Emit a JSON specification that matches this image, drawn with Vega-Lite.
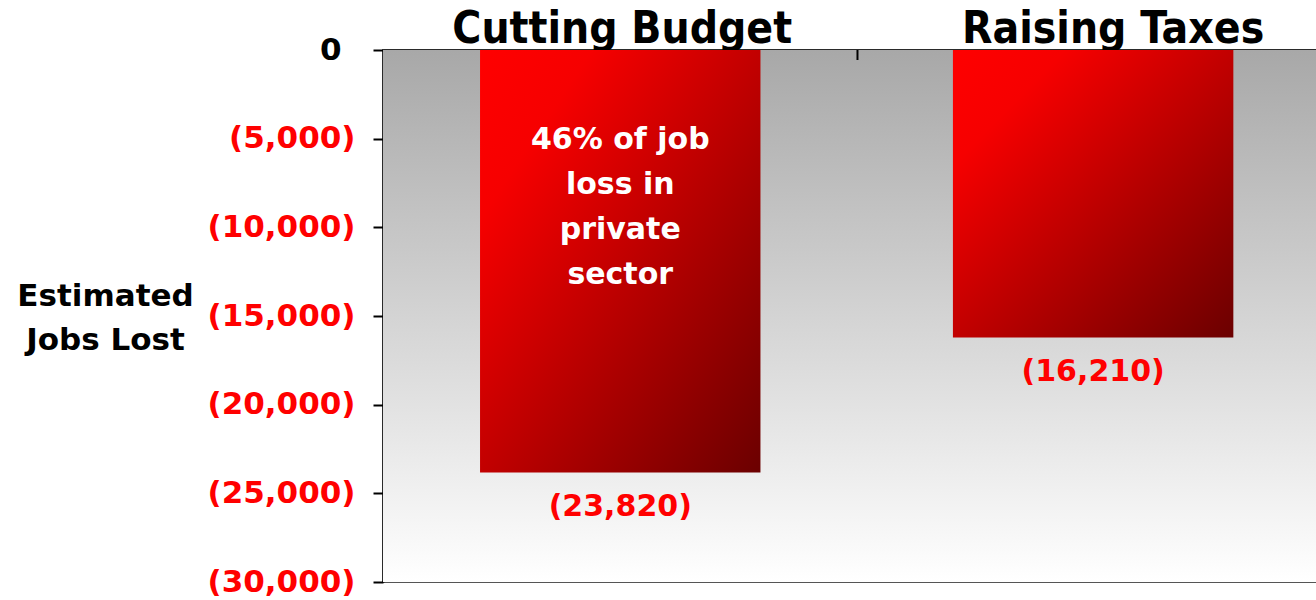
{
  "$schema": "https://vega.github.io/schema/vega-lite/v6.json",
  "width": 933,
  "height": 532,
  "autosize": {"type": "none"},
  "padding": {"left": 383, "top": 50, "right": 0, "bottom": 18},
  "background": "white",
  "config": {"view": {"stroke": "#555555", "strokeWidth": 2}},
  "data": {"values": [
    {"category": "Cutting Budget", "jobs": -23820, "label": "(23,820)"},
    {"category": "Raising Taxes", "jobs": -16210, "label": "(16,210)"}
  ]},
  "resolve": {"axis": {"x": "independent", "y": "independent"}},
  "layer": [
    {
      "data": {"values": [{}]},
      "mark": {"type": "rect", "fill": {"gradient": "linear", "x1": 0, "y1": 0, "x2": 0, "y2": 1, "stops": [{"offset": 0, "color": "#a8a8a8"}, {"offset": 1, "color": "#ffffff"}]}},
      "encoding": {
        "y": {"datum": 0, "type": "quantitative", "axis": null},
        "y2": {"datum": -30000}
      }
    },
    {
      "mark": {"type": "bar", "fill": {"gradient": "linear", "x1": 0, "y1": 0, "x2": 1, "y2": 1, "stops": [{"offset": 0, "color": "#ff0000"}, {"offset": 0.2, "color": "#f60000"}, {"offset": 1, "color": "#6b0000"}]}},
      "encoding": {
        "x": {"field": "category", "type": "nominal", "sort": null,
          "scale": {"paddingInner": 0.407, "paddingOuter": 0.19, "align": 0.54},
          "axis": {"orient": "top", "title": null, "labelFont": "DejaVu Sans Condensed", "labelFontSize": 44, "labelFontWeight": "bold", "labelColor": "black", "labelAngle": 0, "labelLimit": 600,
            "labelOffset": {"condition": {"test": "datum.value === 'Raising Taxes'", "value": 20}, "value": 2},
            "ticks": false, "domainColor": "black", "domainWidth": 2, "labelPadding": 8, "labelBaseline": "alphabetic"}},
        "y": {"field": "jobs", "type": "quantitative",
          "scale": {"domain": [-30000, 0], "nice": false, "zero": true},
          "axis": {
            "title": ["Estimated", "Jobs Lost"], "titleAngle": 0, "titleX": -278, "titleY": 246, "titleAlign": "center", "titleBaseline": "middle",
            "titleFont": "DejaVu Sans", "titleFontSize": 31, "titleFontWeight": "bold", "titleColor": "black", "titleLineHeight": 44,
            "values": [0, -5000, -10000, -15000, -20000, -25000, -30000],
            "labelExpr": "datum.value == 0 ? '0' : '(' + format(-datum.value, ',') + ')'",
            "labelFont": "DejaVu Sans", "labelFontSize": 31, "labelFontWeight": "bold", "labelLimit": 300,
            "labelColor": {"condition": {"test": "datum.value === 0", "value": "black"}, "value": "#ff0000"},
            "labelPadding": {"condition": {"test": "datum.value === 0", "value": 32}, "value": 18},
            "tickSize": 10, "tickColor": "black", "tickWidth": 2,
            "domainColor": "black", "domainWidth": 2, "grid": false, "labelBaseline": "middle"
          }}
      }
    },
    {
      "data": {"values": [{"category": "Cutting Budget"}]},
      "mark": {"type": "rule", "color": "black", "strokeWidth": 2},
      "encoding": {
        "x": {"field": "category", "type": "nominal", "bandPosition": 1.346, "axis": null},
        "y": {"datum": 0, "type": "quantitative", "axis": null},
        "y2": {"datum": -564}
      }
    },
    {
      "mark": {"type": "text", "color": "#ff0000", "font": "DejaVu Sans", "fontSize": 30, "fontWeight": "bold", "baseline": "middle", "align": "center", "dy": 35},
      "encoding": {
        "x": {"field": "category", "type": "nominal", "sort": null, "axis": null},
        "y": {"field": "jobs", "type": "quantitative", "axis": null},
        "text": {"field": "label"}
      }
    },
    {
      "data": {"values": [{"category": "Cutting Budget", "note": ["46% of job", "loss in", "private", "sector"]}]},
      "mark": {"type": "text", "color": "white", "font": "DejaVu Sans", "fontSize": 30, "fontWeight": "bold", "lineHeight": 45, "baseline": "middle", "align": "center"},
      "encoding": {
        "x": {"field": "category", "type": "nominal", "axis": null},
        "y": {"datum": -5075, "type": "quantitative", "axis": null},
        "text": {"field": "note"}
      }
    }
  ]
}
